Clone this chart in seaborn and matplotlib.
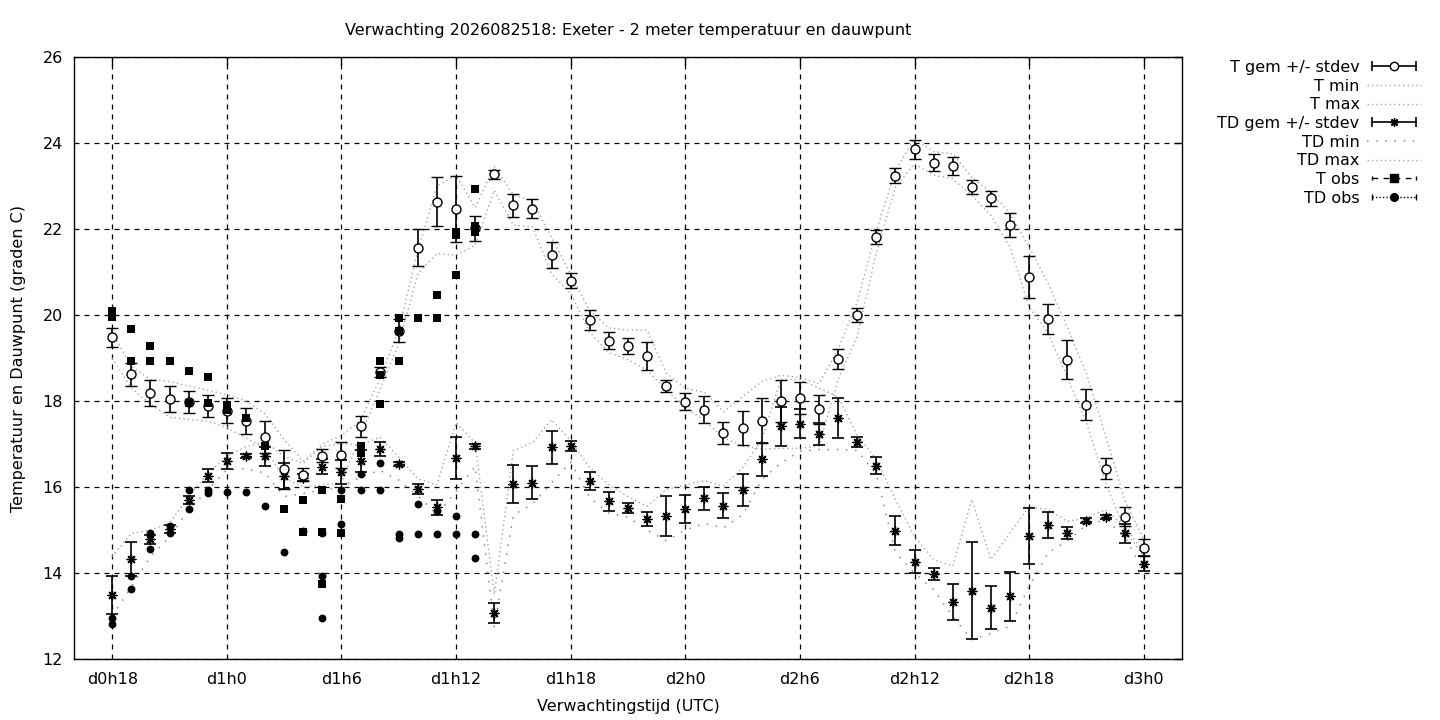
import matplotlib
matplotlib.use("Agg")
import matplotlib.pyplot as plt
from matplotlib.lines import Line2D
from matplotlib.legend_handler import HandlerLine2D, HandlerTuple
import pandas as pd
import seaborn as sns

# forecast hours (from d0h0), one value per hour
hours = list(range(18, 73))

t_gem = [19.48, 18.62, 18.18, 18.04, 17.98, 17.88, 17.77, 17.53, 17.16, 16.41,
         16.29, 16.73, 16.74, 17.41, 18.67, 19.64, 21.57, 22.64, 22.47, 22.02,
         23.27, 22.55, 22.47, 21.40, 20.80, 19.88, 19.40, 19.28, 19.05, 18.36,
         17.98, 17.80, 17.26, 17.37, 17.54, 18.00, 18.07, 17.81, 18.98, 20.00,
         21.82, 23.24, 23.85, 23.54, 23.47, 22.98, 22.71, 22.10, 20.89, 19.91,
         18.96, 17.91, 16.43, 15.31, 14.59]
t_sd = [0.22, 0.26, 0.30, 0.30, 0.26, 0.25, 0.29, 0.30, 0.37, 0.45,
        0.16, 0.15, 0.30, 0.24, 0.12, 0.26, 0.43, 0.56, 0.77, 0.29,
        0.10, 0.27, 0.22, 0.30, 0.18, 0.23, 0.20, 0.19, 0.33, 0.14,
        0.20, 0.31, 0.25, 0.40, 0.52, 0.48, 0.38, 0.34, 0.23, 0.16,
        0.16, 0.17, 0.22, 0.20, 0.21, 0.17, 0.17, 0.28, 0.49, 0.35,
        0.45, 0.36, 0.25, 0.22, 0.20]
t_min = [19.00, 18.30, 17.93, 17.62, 17.57, 17.53, 17.38, 17.14, 16.90, 16.20,
         16.00, 16.05, 16.10, 17.20, 18.25, 19.33, 20.96, 21.43, 21.39, 21.62,
         22.90, 22.09, 22.05, 20.96, 20.50, 19.60, 19.12, 18.96, 18.72, 18.26,
         17.85, 17.55, 17.15, 16.95, 16.88, 16.90, 16.90, 16.95, 18.50, 19.50,
         21.45, 22.98, 23.52, 23.25, 23.17, 22.78, 22.32, 21.58, 20.19, 19.57,
         18.55, 17.50, 16.09, 15.00, 14.39]
t_max = [19.60, 18.80, 18.50, 18.45, 18.35, 18.25, 18.15, 18.00, 17.70, 17.10,
         16.60, 17.00, 17.20, 17.55, 18.50, 19.65, 21.50, 23.00, 23.25, 22.50,
         23.45, 22.80, 22.65, 21.80, 20.95, 20.10, 19.70, 19.65, 19.65, 18.65,
         18.30, 18.20, 17.75, 18.10, 18.45, 18.60, 18.55, 18.40, 19.20, 20.30,
         21.95, 23.36, 24.10, 23.80, 23.75, 23.20, 22.86, 22.36, 21.58, 20.73,
         19.72, 18.64, 17.20, 15.70, 14.78]

td_gem = [13.49, 14.33, 14.78, 15.02, 15.70, 16.26, 16.60, 16.72, 16.71, 16.26,
          16.22, 16.47, 16.35, 16.60, 16.88, 16.53, 15.95, 15.53, 16.67, 16.95,
          13.07, 16.07, 16.10, 16.92, 16.95, 16.14, 15.67, 15.51, 15.26, 15.33,
          15.49, 15.74, 15.57, 15.94, 16.64, 17.41, 17.47, 17.24, 17.61, 17.04,
          16.50, 14.98, 14.26, 13.98, 13.33, 13.59, 13.19, 13.46, 14.87, 15.12,
          14.93, 15.22, 15.31, 14.92, 14.22]
td_sd = [0.45, 0.40, 0.10, 0.10, 0.10, 0.15, 0.18, 0.05, 0.23, 0.30,
         0.08, 0.17, 0.28, 0.25, 0.16, 0.05, 0.12, 0.17, 0.49, 0.06,
         0.24, 0.45, 0.39, 0.39, 0.12, 0.21, 0.22, 0.12, 0.16, 0.47,
         0.33, 0.27, 0.29, 0.37, 0.38, 0.45, 0.34, 0.26, 0.46, 0.12,
         0.20, 0.34, 0.27, 0.14, 0.42, 1.13, 0.50, 0.57, 0.65, 0.31,
         0.15, 0.05, 0.05, 0.22, 0.17]
td_min = [13.00, 13.68, 14.38, 14.84, 15.47, 15.93, 16.40, 16.43, 16.32, 15.78,
          15.85, 15.93, 16.00, 16.23, 16.39, 16.16, 15.80, 15.36, 15.90, 16.48,
          12.75, 15.35, 15.60, 16.10, 16.58, 15.75, 15.39, 15.30, 15.00, 14.75,
          15.00, 15.15, 15.05, 15.35, 16.17, 16.56, 16.83, 16.87, 16.87, 16.85,
          16.30, 14.47, 14.00, 13.61, 12.99, 12.45, 12.60, 12.76, 13.69, 14.47,
          14.75, 15.12, 15.24, 14.85, 14.04]
td_max = [14.38, 14.92, 15.00, 15.16, 15.78, 16.32, 16.71, 16.94, 17.05, 16.71,
          16.55, 16.94, 17.02, 16.97, 17.16, 16.70, 16.19, 16.05, 17.50, 17.02,
          13.50, 16.85, 17.03, 17.57, 17.08, 16.45, 16.05, 15.78, 15.55, 15.94,
          16.05, 16.15, 16.02, 16.45, 17.10, 18.50, 18.50, 18.30, 18.10, 17.20,
          16.65, 15.71, 14.85, 14.31, 14.16, 15.71, 14.31, 14.93, 15.55, 15.47,
          15.20, 15.28, 15.47, 15.09, 14.47]

# observations (several reports per hour)
t_obs_hour = [18, 18, 19, 19, 20, 20, 21, 22, 22, 23, 23, 24, 24, 25, 26, 27, 28, 28,
              29, 29, 29, 30, 30, 31, 31, 32, 32, 32, 33, 33, 33, 34, 35, 35, 36, 36,
              36, 37, 37, 37]
t_obs_val = [20.10, 19.95, 19.67, 18.94, 19.29, 18.94, 18.94, 18.69, 17.95, 18.55,
             17.95, 17.90, 17.80, 17.60, 16.95, 15.50, 15.69, 14.95, 15.93, 14.95,
             13.74, 15.72, 14.93, 16.95, 16.80, 18.93, 18.60, 17.94, 19.94, 19.64,
             18.94, 19.93, 20.47, 19.93, 21.93, 21.85, 20.94, 22.93, 22.07, 21.93]
td_obs_hour = [18, 18, 19, 19, 20, 20, 21, 21, 22, 22, 23, 23, 24, 25, 26, 27, 28,
               29, 29, 29, 30, 30, 31, 31, 32, 32, 33, 33, 34, 34, 35, 35, 36, 36,
               37, 37]
td_obs_val = [12.95, 12.81, 13.92, 13.62, 14.92, 14.55, 15.09, 14.92, 15.92, 15.50,
              15.92, 15.85, 15.88, 15.88, 15.57, 14.48, 14.98, 14.92, 13.92, 12.95,
              15.92, 15.13, 16.31, 15.92, 16.57, 15.92, 14.91, 14.82, 15.60, 14.91,
              15.44, 14.91, 15.33, 14.91, 14.91, 14.36]

xticks = list(range(18, 73, 6))
xticklabels = ["d%dh%d" % (h // 24, h % 24) for h in xticks]

fc = pd.DataFrame({"uur": hours, "t_gem": t_gem, "t_sd": t_sd,
                   "t_min": t_min, "t_max": t_max,
                   "td_gem": td_gem, "td_sd": td_sd,
                   "td_min": td_min, "td_max": td_max})

sns.set_theme(style="white")
plt.rcParams['font.family'] = ['DejaVu Sans']
plt.rcParams['font.size'] = 11.5
plt.rcParams['text.color'] = 'black'
plt.rcParams['axes.labelcolor'] = 'black'

fs = 11.5

fig, ax = plt.subplots(figsize=(14.4, 7.2), dpi=100)
fig.subplots_adjust(left=0.0514, right=0.8208, bottom=0.0847, top=0.9208)

grey = '#a6a6a6'
dense = (0, (1, 2.2))
sparse = (0, (1, 5.0))
star = (8, 2, 0)

# T gem +/- stdev
ax.errorbar(fc.uur, fc.t_gem, yerr=fc.t_sd, fmt='o', ms=6.5, mfc='white',
            mec='black', mew=1, ecolor='black', elinewidth=1.2,
            capsize=4.3, capthick=1.2, zorder=3)
sns.lineplot(data=fc, x="uur", y="t_min", ax=ax, color=grey, lw=1,
             linestyle=dense, legend=False, zorder=2)
sns.lineplot(data=fc, x="uur", y="t_max", ax=ax, color=grey, lw=1,
             linestyle=dense, legend=False, zorder=2)

# TD gem +/- stdev
ax.errorbar(fc.uur, fc.td_gem, yerr=fc.td_sd, fmt='none', ecolor='black',
            elinewidth=1.2, capsize=4.3, capthick=1.2, zorder=3)
sns.scatterplot(data=fc, x="uur", y="td_gem", ax=ax, marker=star, s=40,
                color='black', linewidth=1, zorder=3)
sns.lineplot(data=fc, x="uur", y="td_min", ax=ax, color='#8c8c8c', lw=1.1,
             linestyle=sparse, legend=False, zorder=2)
sns.lineplot(data=fc, x="uur", y="td_max", ax=ax, color=grey, lw=1,
             linestyle=dense, legend=False, zorder=2)

# observations
sns.scatterplot(x=t_obs_hour, y=t_obs_val, ax=ax, marker='s', s=30,
                color='black', edgecolor='black', linewidth=0, zorder=4)
sns.scatterplot(x=td_obs_hour, y=td_obs_val, ax=ax, marker='o', s=32,
                color='black', edgecolor='black', linewidth=0, zorder=4)

ax.set_xlim(16, 74)
ax.set_ylim(12, 26)
ax.set_xticks(xticks)
ax.set_xticklabels(xticklabels)
ax.set_yticks(range(12, 27, 2))
ax.tick_params(direction='in', length=6, width=1, top=True, right=True,
               labelsize=fs, colors='black', pad=8)
ax.tick_params(axis='x', pad=9)
for sp in ax.spines.values():
    sp.set_color('black')
    sp.set_linewidth(1)
ax.grid(True, color='black', linestyle=(0, (4, 4)), linewidth=0.9)
ax.set_axisbelow(True)

ax.set_title("Verwachting 2026082518: Exeter - 2 meter temperatuur en dauwpunt",
             fontsize=fs, pad=16, color='black')
ax.set_xlabel("Verwachtingstijd (UTC)", fontsize=fs)
ax.set_ylabel("Temperatuur en Dauwpunt (graden C)", fontsize=fs)
ax.xaxis.set_label_coords(0.5, -0.066)
ax.yaxis.set_label_coords(-0.0433, 0.5)

# legend in gnuplot style: label first, sample after
caps_t = Line2D([], [], color='black', lw=1.2, marker='|', ms=7, mew=1.2)
caps_td = Line2D([], [], color='black', lw=1.2, marker='|', ms=7, mew=1.2)
caps_to = Line2D([], [], color='black', lw=1, ls=(0, (4, 4)), marker='|', ms=3.5, mew=1)
caps_tdo = Line2D([], [], color='black', lw=1, ls=(0, (1, 1.5)), marker='|', ms=5, mew=1)
handles = [
    (caps_t, Line2D([], [], ls='none', marker='o', ms=6, mfc='white', mec='black', mew=1)),
    Line2D([], [], color=grey, lw=1, ls=dense),
    Line2D([], [], color=grey, lw=1, ls=dense),
    (caps_td, Line2D([], [], ls='none', marker=star, ms=6, color='black', mew=1)),
    Line2D([], [], color='#8c8c8c', lw=1.1, ls=sparse),
    Line2D([], [], color=grey, lw=1, ls=dense),
    (caps_to, Line2D([], [], ls='none', marker='s', ms=5.5, color='black')),
    (caps_tdo, Line2D([], [], ls='none', marker='o', ms=5.5, color='black')),
]
labels = ["T gem +/- stdev", "T min", "T max", "TD gem +/- stdev",
          "TD min", "TD max", "T obs", "TD obs"]
hmap = {c: HandlerLine2D(numpoints=2) for c in (caps_t, caps_td, caps_to, caps_tdo)}
hmap[tuple] = HandlerTuple(ndivide=1, pad=0)
leg = fig.legend(handles, labels, handler_map=hmap, loc='upper right',
                 bbox_to_anchor=(1421 / 1440, 1 - 60 / 720), frameon=False,
                 markerfirst=False, handlelength=3.35, handletextpad=0.5,
                 labelspacing=0.23, borderpad=0, borderaxespad=0, fontsize=fs)
for col in leg._legend_handle_box.get_children():
    col.align = 'right'

fig.savefig("out.png", dpi=100)
